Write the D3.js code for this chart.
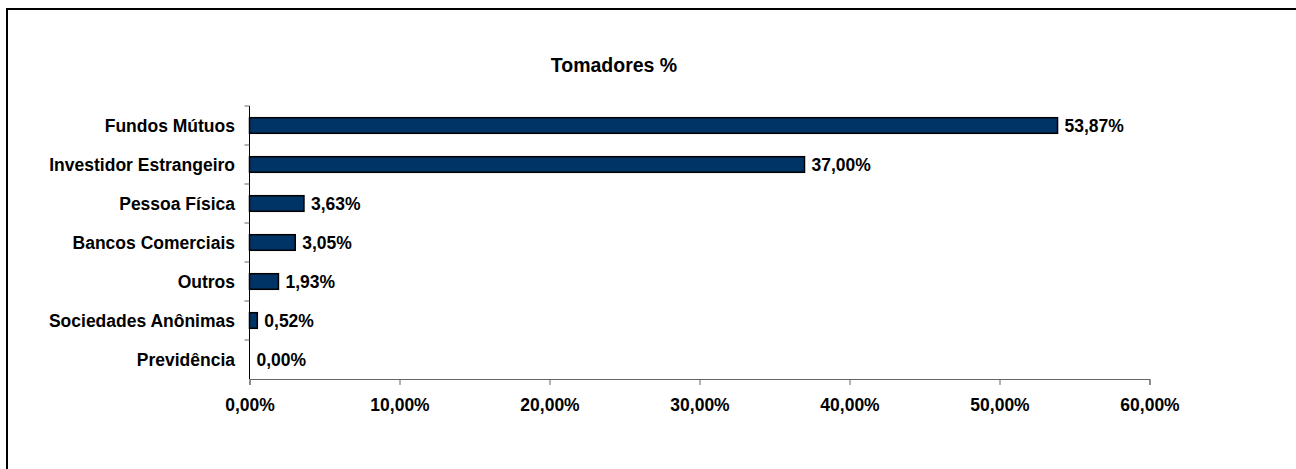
<!DOCTYPE html>
<html>
<head>
<meta charset="utf-8">
<script src="https://cdn.jsdelivr.net/npm/d3@7"></script>
<style>
  body { margin: 0; background: #fff; }
  text { font-family: "Liberation Sans", Arial, sans-serif; font-weight: bold; fill: #000; }
</style>
</head>
<body>
<svg id="chart" width="1296" height="469"></svg>
<script>
  const categories = ['Fundos Mútuos', 'Investidor Estrangeiro', 'Pessoa Física', 'Bancos Comerciais', 'Outros', 'Sociedades Anônimas', 'Previdência'];
  const values = [53.87, 37.00, 3.63, 3.05, 1.93, 0.52, 0.00];
  const tickValues = [0, 10, 20, 30, 40, 50, 60];
  const title = 'Tomadores %';

  const data = categories.map((c, i) => ({category: c, value: values[i]}));

  const MARGINS = {left: 249.5, top: 106, right: 146.5, bottom: 90};
  const WIDTH = 1296;
  const FONT = '17.5px';
  const fmt = (v) => v.toFixed(2).replace('.', ',') + '%';

  const svg = d3.select('#chart');

  // outer frame (runs off the right and bottom edges)
  svg.append('rect')
    .attr('x', 7)
    .attr('y', 9)
    .attr('width', 1320)
    .attr('height', 500)
    .attr('fill', 'none')
    .attr('stroke', '#000')
    .attr('stroke-width', 2);

  const x = d3.scaleLinear().domain([0, 60]).range([MARGINS.left, WIDTH - MARGINS.right]);
  const y = d3.scaleBand().domain(categories).range([MARGINS.top, 379]).paddingInner(0.6).paddingOuter(0.3);
  const yTicks = d3.scaleBand().domain(categories).range([MARGINS.top, 379]);

  svg.append('text')
    .attr('x', 614)
    .attr('y', 72)
    .attr('text-anchor', 'middle')
    .style('font-size', '19.5px')
    .text(title);

  // x axis
  const xAxis = svg.append('g')
    .attr('transform', 'translate(0, 379)')
    .call(d3.axisBottom(x).tickValues(tickValues).tickSize(6).tickSizeOuter(6).tickFormat(fmt));
  xAxis.select('.domain').attr('stroke', '#666');
  xAxis.selectAll('.tick line').attr('stroke', '#666');
  xAxis.selectAll('.tick text').style('font-size', FONT).attr('y', 26).attr('dy', '0.35em');

  // y axis: line plus ticks at category boundaries
  svg.append('line')
    .attr('x1', MARGINS.left).attr('x2', MARGINS.left)
    .attr('y1', MARGINS.top).attr('y2', 379)
    .attr('stroke', '#000');
  svg.selectAll('.ytick')
    .data(categories)
    .enter()
    .append('line')
    .attr('x1', MARGINS.left - 5).attr('x2', MARGINS.left)
    .attr('y1', (d) => yTicks(d)).attr('y2', (d) => yTicks(d))
    .attr('stroke', '#666');

  svg.selectAll('.cat')
    .data(data)
    .enter()
    .append('text')
    .attr('x', 235)
    .attr('y', (d) => yTicks(d.category) + yTicks.bandwidth() / 2)
    .attr('dy', '0.35em')
    .attr('text-anchor', 'end')
    .style('font-size', FONT)
    .text((d) => d.category);

  svg.selectAll('.bar')
    .data(data.filter((d) => d.value > 0))
    .enter()
    .append('rect')
    .attr('x', x(0))
    .attr('y', (d) => y(d.category))
    .attr('width', (d) => x(d.value) - x(0))
    .attr('height', y.bandwidth())
    .attr('fill', '#003366')
    .attr('stroke', '#000')
    .attr('stroke-width', 1.5);

  svg.selectAll('.lbl')
    .data(data)
    .enter()
    .append('text')
    .attr('x', (d) => x(d.value) + 7)
    .attr('y', (d) => yTicks(d.category) + yTicks.bandwidth() / 2)
    .attr('dy', '0.35em')
    .style('font-size', FONT)
    .text((d) => fmt(d.value));
</script>
</body>
</html>
